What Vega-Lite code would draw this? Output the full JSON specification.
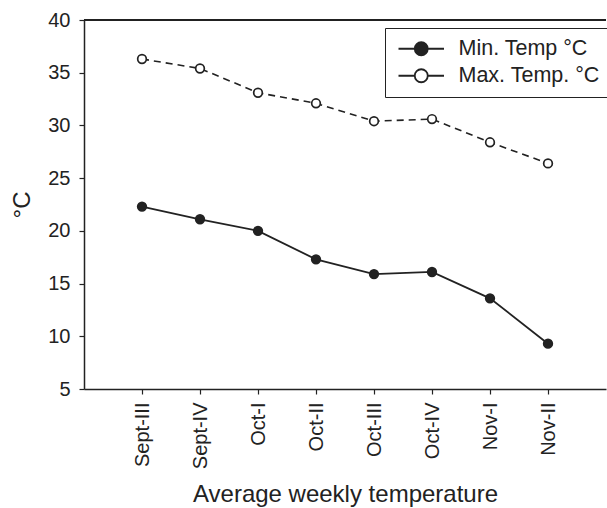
{
  "$schema": "https://vega.github.io/schema/vega-lite/v6.json",
  "autosize": "none",
  "padding": {"left": 84, "top": 20, "right": 1, "bottom": 119},
  "width": 522,
  "height": 369,
  "config": {
    "view": {"stroke": null},
    "font": "Liberation Sans",
    "axis": {
      "grid": false,
      "domainColor": "#222",
      "domainWidth": 1.5,
      "tickColor": "#222",
      "tickWidth": 1.2,
      "tickSize": 5,
      "labelColor": "#222",
      "titleColor": "#222",
      "titleFontWeight": "normal"
    }
  },
  "data": {
    "values": [
      {"week": "Sept-III", "series": "Min. Temp °C", "temp": 22.3},
      {"week": "Sept-IV", "series": "Min. Temp °C", "temp": 21.1},
      {"week": "Oct-I", "series": "Min. Temp °C", "temp": 20.0},
      {"week": "Oct-II", "series": "Min. Temp °C", "temp": 17.3},
      {"week": "Oct-III", "series": "Min. Temp °C", "temp": 15.9},
      {"week": "Oct-IV", "series": "Min. Temp °C", "temp": 16.1},
      {"week": "Nov-I", "series": "Min. Temp °C", "temp": 13.6},
      {"week": "Nov-II", "series": "Min. Temp °C", "temp": 9.3},
      {"week": "Sept-III", "series": "Max. Temp. °C", "temp": 36.3},
      {"week": "Sept-IV", "series": "Max. Temp. °C", "temp": 35.4},
      {"week": "Oct-I", "series": "Max. Temp. °C", "temp": 33.1},
      {"week": "Oct-II", "series": "Max. Temp. °C", "temp": 32.1},
      {"week": "Oct-III", "series": "Max. Temp. °C", "temp": 30.4},
      {"week": "Oct-IV", "series": "Max. Temp. °C", "temp": 30.6},
      {"week": "Nov-I", "series": "Max. Temp. °C", "temp": 28.4},
      {"week": "Nov-II", "series": "Max. Temp. °C", "temp": 26.4}
    ]
  },
  "encoding": {
    "x": {
      "field": "week",
      "type": "ordinal",
      "sort": ["Sept-III", "Sept-IV", "Oct-I", "Oct-II", "Oct-III", "Oct-IV", "Nov-I", "Nov-II"],
      "scale": {"type": "point", "padding": 1},
      "axis": {
        "title": "Average weekly temperature",
        "titleFontSize": 24,
        "titlePadding": 14,
        "labelAngle": 270,
        "labelFontSize": 20,
        "labelPadding": 8
      }
    },
    "y": {
      "field": "temp",
      "type": "quantitative",
      "scale": {"domain": [5, 40], "nice": false, "zero": false},
      "axis": {
        "title": "°C",
        "titleFontSize": 24,
        "titlePadding": 13,
        "values": [5, 10, 15, 20, 25, 30, 35, 40],
        "labelFontSize": 20,
        "labelPadding": 9
      }
    }
  },
  "layer": [
    {
      "mark": {"type": "rule", "color": "#222", "strokeWidth": 1.5},
      "encoding": {"x": null, "y": {"datum": 40, "type": "quantitative"}}
    },
    {
      "transform": [{"filter": "datum.series === 'Min. Temp °C'"}],
      "mark": {"type": "line", "color": "#222", "strokeWidth": 1.8},
      "encoding": {}
    },
    {
      "transform": [{"filter": "datum.series === 'Max. Temp. °C'"}],
      "mark": {"type": "line", "color": "#222", "strokeWidth": 1.6, "strokeDash": [7, 5]},
      "encoding": {}
    },
    {
      "mark": {"type": "point", "shape": "circle", "filled": true, "stroke": "#222", "strokeWidth": 1.7, "opacity": 1, "size": 75},
      "encoding": {
        "fill": {
          "field": "series",
          "type": "nominal",
          "scale": {"domain": ["Min. Temp °C", "Max. Temp. °C"], "range": ["#222", "white"]},
          "legend": {
            "title": null,
            "orient": "none",
            "legendX": 301,
            "legendY": 8,
            "direction": "vertical",
            "strokeColor": "#222",
            "padding": 10,
            "symbolType": "M-3.5,0H-1M1,0H3.5M1,0A1,1,0,1,1,-1,0A1,1,0,1,1,1,0Z",
            "symbolSize": 169,
            "symbolStrokeWidth": 1.8,
            "symbolStrokeColor": "#222",
            "symbolOpacity": 1,
            "symbolOffset": 15.5,
            "labelOffset": 26.5,
            "labelFontSize": 21.5,
            "labelColor": "#222",
            "labelLimit": 300,
            "rowPadding": 4
          }
        }
      }
    }
  ]
}
